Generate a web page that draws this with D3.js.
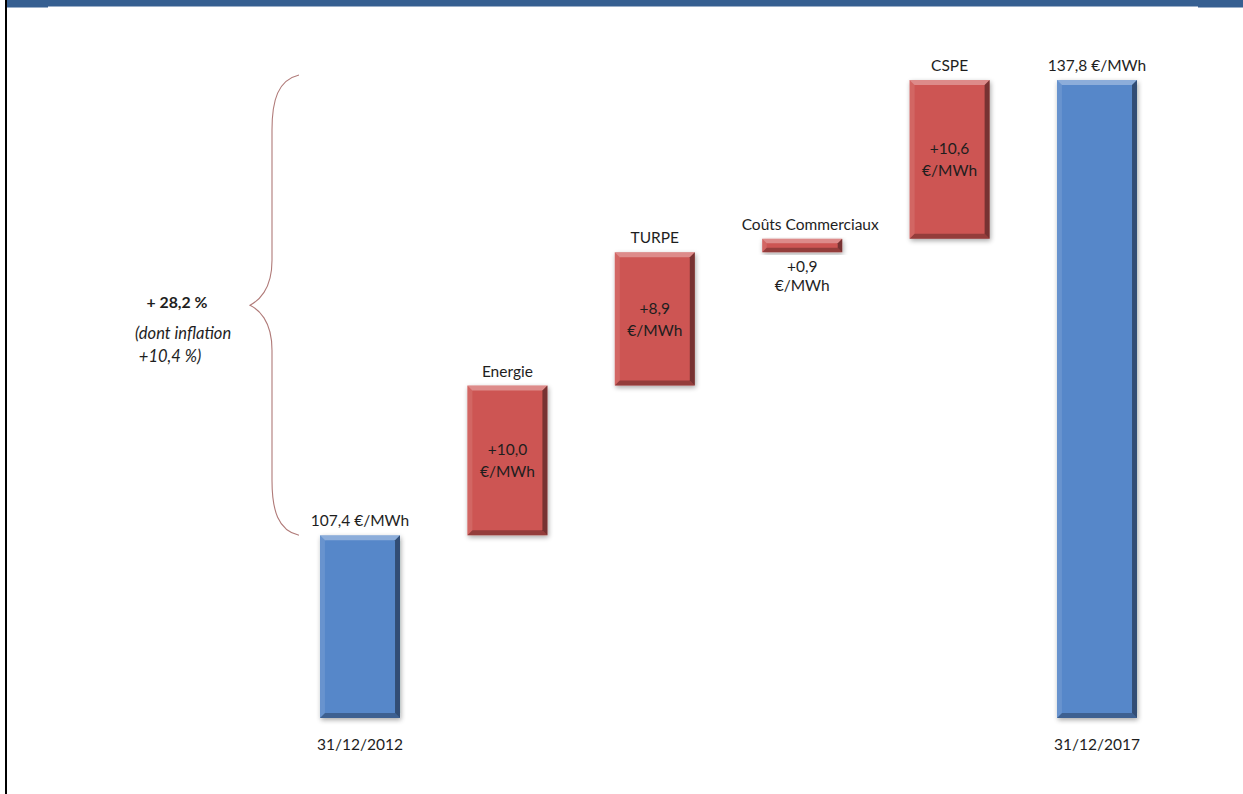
<!DOCTYPE html>
<html>
<head>
<meta charset="utf-8">
<script src="https://cdn.jsdelivr.net/npm/d3@7"></script>
<style>
  html, body { margin: 0; padding: 0; background: #fff; }
  svg { display: block; }
  text { font-family: Lato, "Open Sans", sans-serif; fill: #1e1e1e; }
</style>
</head>
<body>
<svg id="chart" width="1243" height="794"></svg>
<script>
// Categories of the bridge, from the 2012 price to the 2017 price
const categories = ["31/12/2012", "Energie", "TURPE", "Coûts Commerciaux", "CSPE", "31/12/2017"];
// Kind of each step: total bars vs. increments
const kinds = ["total", "delta", "delta", "delta", "delta", "total"];
// Values in €/MWh (totals are levels, deltas are increases)
const values = [107.4, 10.0, 8.9, 0.9, 10.6, 137.8];
// Text shown with each bar
const valueLabels = ["107,4 €/MWh", "+10,0", "+8,9", "+0,9", "+10,6", "137,8 €/MWh"];
const unitLabel = "€/MWh";
// Summary annotation on the left
const summaryLines = ["+ 28,2 %", "(dont inflation", " +10,4 %)"];
// Lower bound of the value axis (bars start here)
const axisFloor = 95.2;

const svg = d3.select("#chart");

// Page frame: blue top band and black left rule
svg.append("rect").attr("x", 7).attr("y", 0).attr("width", 1236).attr("height", 6.5).attr("fill", "#365f91");
svg.append("rect").attr("x", 7).attr("y", 0).attr("width", 41).attr("height", 7.5).attr("fill", "#365f91");
svg.append("rect").attr("x", 1198).attr("y", 0).attr("width", 45).attr("height", 7.5).attr("fill", "#365f91");
svg.append("rect").attr("x", 5).attr("y", 0).attr("width", 2).attr("height", 794).attr("fill", "#000");

// Cumulative start/end of each bar
let running = 0;
const bars = categories.map((c, i) => {
  let lo, hi;
  if (kinds[i] === "total") { lo = axisFloor; hi = values[i]; running = values[i]; }
  else { lo = running; hi = running + values[i]; running = hi; }
  return { cat: c, kind: kinds[i], lo, hi, label: valueLabels[i], i };
});

const x = d3.scaleBand().domain(categories).range([286.3, 1170.7]).paddingInner(0.457).paddingOuter(0.2285);
const y = d3.scaleLinear().domain([axisFloor, 137.8]).range([718, 80]);

// Soft shadow
const defs = svg.append("defs");
const f = defs.append("filter").attr("id", "shadow").attr("x", "-20%").attr("y", "-20%").attr("width", "140%").attr("height", "140%");
f.append("feGaussianBlur").attr("in", "SourceAlpha").attr("stdDeviation", 2.5).attr("result", "b");
f.append("feOffset").attr("in", "b").attr("dx", 1).attr("dy", 1.5).attr("result", "o");
f.append("feComponentTransfer").attr("in", "o").attr("result", "s")
  .append("feFuncA").attr("type", "linear").attr("slope", 0.35);
const m = f.append("feMerge");
m.append("feMergeNode").attr("in", "s");
m.append("feMergeNode").attr("in", "SourceGraphic");

const colors = { total: "#5687c9", delta: "#cd5553" };

const g = svg.append("g");
bars.forEach(d => {
  const x0 = x(d.cat), w = x.bandwidth();
  const yt = y(d.hi), yb = y(d.lo), h = yb - yt;
  const b = Math.min(5, h / 3);
  const bg = g.append("g").attr("filter", "url(#shadow)");
  bg.append("rect").attr("x", x0).attr("y", yt).attr("width", w).attr("height", h).attr("fill", colors[d.kind]);
  // bevel edges
  const poly = (pts, fill, op) => bg.append("polygon")
    .attr("points", pts.map(p => p.join(",")).join(" ")).attr("fill", fill).attr("opacity", op);
  poly([[x0, yt], [x0 + w, yt], [x0 + w - b, yt + b], [x0 + b, yt + b]], "#fff", 0.32);
  poly([[x0, yt], [x0 + b, yt + b], [x0 + b, yb - b], [x0, yb]], "#fff", 0.1);
  poly([[x0 + w, yt], [x0 + w, yb], [x0 + w - b, yb - b], [x0 + w - b, yt + b]], "#000", 0.42);
  poly([[x0, yb], [x0 + w, yb], [x0 + w - b, yb - b], [x0 + b, yb - b]], "#000", 0.28);
});

const cx = d => x(d.cat) + x.bandwidth() / 2;
const fs = 15.5;

bars.forEach(d => {
  const yt = y(d.hi), yb = y(d.lo), h = yb - yt;
  if (d.kind === "total") {
    g.append("text").attr("x", cx(d)).attr("y", yt - 9).attr("text-anchor", "middle").attr("font-size", fs).text(d.label);
    g.append("text").attr("x", cx(d)).attr("y", yb + 32).attr("text-anchor", "middle").attr("font-size", fs).text(d.cat);
  } else {
    const dx = d.cat === "Coûts Commerciaux" ? 8 : 0;
    g.append("text").attr("x", cx(d) + dx).attr("y", yt - 9).attr("text-anchor", "middle").attr("font-size", fs).text(d.cat);
    if (h > 40) {
      const mid = (yt + yb) / 2;
      g.append("text").attr("x", cx(d)).attr("y", mid - 5).attr("text-anchor", "middle").attr("font-size", fs).attr("fill", "#2a1212").text(d.label);
      g.append("text").attr("x", cx(d)).attr("y", mid + 17).attr("text-anchor", "middle").attr("font-size", fs).attr("fill", "#2a1212").text(unitLabel);
    } else {
      g.append("text").attr("x", cx(d)).attr("y", yb + 20).attr("text-anchor", "middle").attr("font-size", fs).text(d.label);
      g.append("text").attr("x", cx(d)).attr("y", yb + 39).attr("text-anchor", "middle").attr("font-size", fs).text(unitLabel);
    }
  }
});

// Curly brace spanning the overall increase
const bTop = y(137.8) - 5, bBot = y(107.4);
const bMid = (bTop + bBot) / 2;
const xe = 299, xs = 272, xt = 250;
const brace = d3.path();
brace.moveTo(xe, bTop);
brace.bezierCurveTo(xs + 6, bTop + 5, xs, bTop + 25, xs, bTop + 55);
brace.lineTo(xs, bMid - 45);
brace.bezierCurveTo(xs, bMid - 15, xt + 8, bMid - 4, xt, bMid);
brace.bezierCurveTo(xt + 8, bMid + 4, xs, bMid + 15, xs, bMid + 45);
brace.lineTo(xs, bBot - 55);
brace.bezierCurveTo(xs, bBot - 25, xs + 6, bBot - 5, xe, bBot);
svg.append("path").attr("d", brace.toString()).attr("fill", "none").attr("stroke", "#b07a78").attr("stroke-width", 1.1);

// Summary text
svg.append("text").attr("x", 177).attr("y", 308).attr("text-anchor", "middle").attr("font-size", 15.8).attr("font-weight", "bold").text(summaryLines[0]);
svg.append("text").attr("x", 135).attr("y", 339).attr("font-size", 16.5).attr("font-style", "italic").text(summaryLines[1]);
svg.append("text").attr("x", 135).attr("y", 362).attr("font-size", 16.5).attr("font-style", "italic").attr("xml:space", "preserve").text(summaryLines[2]);
</script>
</body>
</html>
